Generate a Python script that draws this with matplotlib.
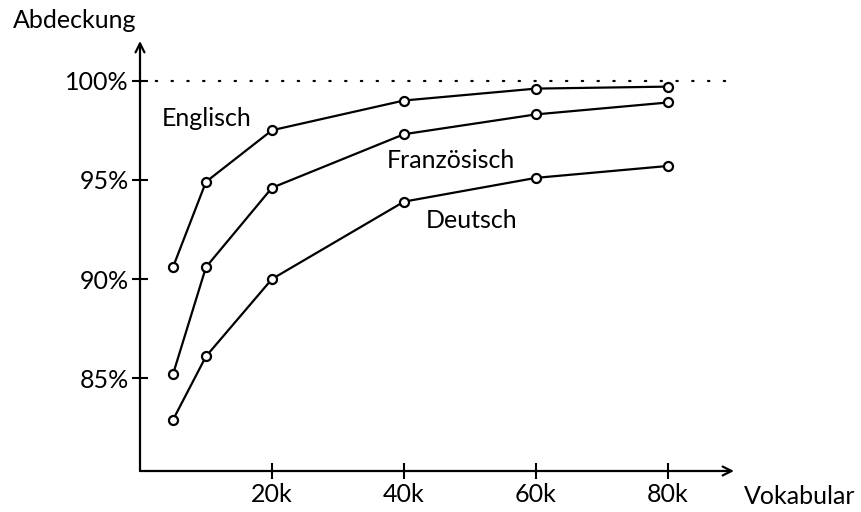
import matplotlib
matplotlib.use("Agg")
import matplotlib.pyplot as plt

vocab_k = [5, 10, 20, 40, 60, 80]
englisch = [90.6, 94.9, 97.5, 99.0, 99.6, 99.7]
franzoesisch = [85.2, 90.6, 94.6, 97.3, 98.3, 98.9]
deutsch = [82.9, 86.1, 90.0, 93.9, 95.1, 95.7]
series_names = ["Englisch", "Französisch", "Deutsch"]
x_ticks = [20, 40, 60, 80]
x_ticklabels = ["20k", "40k", "60k", "80k"]
y_ticks = [85, 90, 95, 100]
y_ticklabels = ["85%", "90%", "95%", "100%"]

plt.rcParams['font.family'] = ['Lato', 'DejaVu Sans']
FS = 18

fig = plt.figure(figsize=(8.61, 5.12), dpi=100)
W, H = 861, 512
x0, x1 = 140, 734
y0, y1 = 471, 41
ax = fig.add_axes([x0 / W, (H - y0) / H, (x1 - x0) / W, (y0 - y1) / H])
ax.set_xlim(0, 90)
ax.set_ylim(80.32, 102.0)
for s in ax.spines.values():
    s.set_visible(False)

# axis arrows
arrow = dict(arrowstyle='->', lw=1.6, color='black', mutation_scale=16,
             shrinkA=0, shrinkB=0)
ax.annotate('', xy=(1.0, 0), xytext=(0, 0), xycoords='axes fraction',
            arrowprops=arrow, annotation_clip=False)
ax.annotate('', xy=(0, 1.0), xytext=(0, 0), xycoords='axes fraction',
            arrowprops=arrow, annotation_clip=False)

ax.axhline(100, xmin=0, xmax=0.99, color='black', lw=1.6,
           linestyle=(0, (0.6, 6.5)), dash_capstyle='round')

for ys in (englisch, franzoesisch, deutsch):
    ax.plot(vocab_k, ys, color='black', lw=1.6, marker='o', markersize=6.5,
            markerfacecolor='white', markeredgewidth=1.6, zorder=3)

ax.set_xticks(x_ticks)
ax.set_xticklabels(x_ticklabels, fontsize=FS)
ax.set_yticks(y_ticks)
ax.set_yticklabels(y_ticklabels, fontsize=FS)
ax.tick_params(direction='inout', length=12, width=1.5, pad=2)
ax.tick_params(axis='x', pad=3)

ax.text(10.15, 98.09, series_names[0], fontsize=FS, ha='center', va='center')
ax.text(47.1, 95.97, series_names[1], fontsize=FS, ha='center', va='center')
ax.text(50.2, 92.95, series_names[2], fontsize=FS, ha='center', va='center')

fig.text(75 / W, 1 - 20 / H, "Abdeckung", fontsize=FS, ha='center', va='center')
fig.text(800 / W, 1 - 496 / H, "Vokabular", fontsize=FS, ha='center', va='center')

fig.savefig("out.png", dpi=100)
